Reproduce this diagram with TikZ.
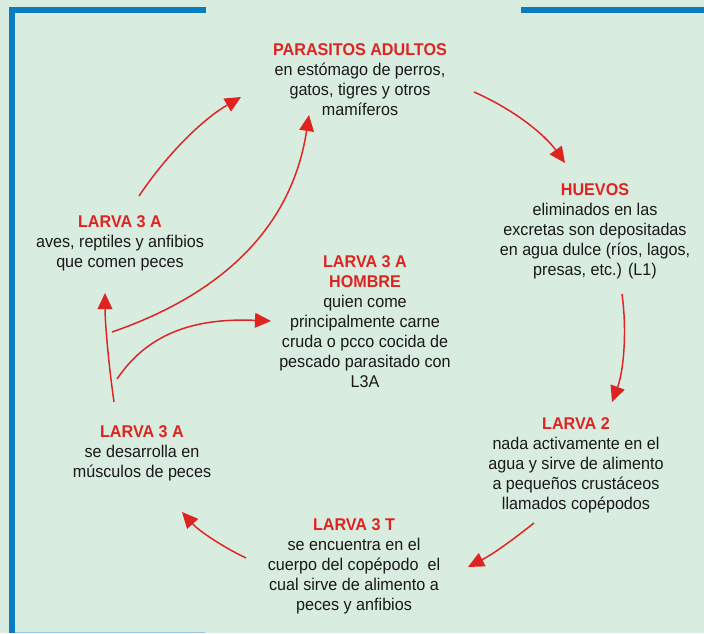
\documentclass[tikz,border=0pt]{standalone}
\usepackage{fontspec}
\setmainfont{Liberation Sans}[FakeStretch=0.95]
\usetikzlibrary{arrows.meta,positioning}
\definecolor{fondo}{HTML}{D9ECE0}
\definecolor{bordo}{HTML}{0A7DC0}
\definecolor{bordochiaro}{HTML}{8CC8E4}
\definecolor{rosso}{HTML}{DF2320}
\newcommand{\titolo}[1]{{\color{rosso}\bfseries #1}}

\begin{document}
\begin{tikzpicture}[x=0.75pt,y=-0.75pt]
\tikzset{base/.style={align=center,inner sep=0pt,anchor=north,font=\fontsize{12.75}{15}\selectfont}, }
\tikzset{testo/.style={base,text=black!90}, }
\tikzset{linea/.style={draw=rosso,line width=1.1pt,-{Triangle[length=12pt,width=11pt]}},}

% fondo e cornice
\fill[fondo] (0,0) rectangle (704,633);
\useasboundingbox (0,0) rectangle (704,633);
\fill[bordo] (9,7) rectangle (206,12.7);
\fill[bordo] (521,7) rectangle (704,12.7);
\fill[bordo] (9,7) rectangle (15,633);
\draw[bordochiaro,line width=1pt] (15,632.5) -- (205,632.5);

% fasi del ciclo
\node[testo] (adultos) at (360,43) {\titolo{PARASITOS ADULTOS}\\ en estómago de perros,\\ gatos, tigres y otros\\ mamíferos};
\node[testo] (huevos) at (595,183) {\titolo{HUEVOS}\\ eliminados en las\\ excretas son depositadas\\ en agua dulce (ríos, lagos,\\ presas, etc.) (L1)};
\node[testo] (larva2) at (576,417) {\titolo{LARVA 2}\\ nada activamente en el\\ agua y sirve de alimento\\ a pequeños crustáceos\\ llamados copépodos};
\node[testo] (larva3t) at (354,518) {\titolo{LARVA 3 T}\\ se encuentra en el\\ cuerpo del copépodo\ \ el\\ cual sirve de alimento a\\ peces y anfibios};
\node[testo] (larva3a) at (142,425) {\titolo{LARVA 3 A}\\ se desarrolla en\\ músculos de peces};
\node[testo] (aves) at (120,215) {\titolo{LARVA 3 A}\\ aves, reptiles y anfibios\\ que comen peces};
\node[testo] (hombre) at (365,255) {\titolo{LARVA 3 A}\\ \titolo{HOMBRE}\\ quien come\\ principalmente carne\\ cruda o pcco cocida de\\ pescado parasitado con\\ L3A};

% estremi delle frecce
\coordinate (a1s) at (474,92);   \coordinate (a1e) at (565,163);
\coordinate (a2s) at (622,294);  \coordinate (a2e) at (612,402);
\coordinate (a3s) at (534,523);  \coordinate (a3e) at (468,567);
\coordinate (a4s) at (246,558);  \coordinate (a4e) at (182,512);
\coordinate (a5s) at (114,402);  \coordinate (a5e) at (105,293);
\coordinate (a6s) at (112,332);  \coordinate (a6e) at (309,115);
\coordinate (a7s) at (117,379);  \coordinate (a7e) at (271,321);
\coordinate (a8s) at (139,196);  \coordinate (a8e) at (241,97);

% frecce
\draw[linea] (a1s) .. controls (515,110) and (545,135) .. (a1e);
\draw[linea] (a2s) .. controls (627,330) and (624,370) .. (a2e);
\draw[linea] (a3s) .. controls (515,538) and (495,553) .. (a3e);
\draw[linea] (a4s) .. controls (225,548) and (200,532) .. (a4e);
\draw[linea] (a5s) .. controls (108,360) and (105,320) .. (a5e);
\draw[linea] (a6s) .. controls (205,300) and (290,240) .. (a6e);
\draw[linea] (a7s) .. controls (150,330) and (200,318) .. (a7e);
\draw[linea] (a8s) .. controls (170,150) and (205,118) .. (a8e);
\end{tikzpicture}
\end{document}
